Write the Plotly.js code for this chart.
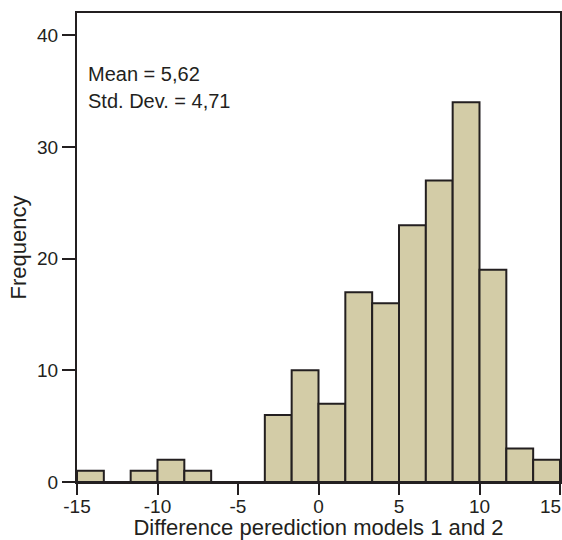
<!DOCTYPE html>
<html>
<head>
<meta charset="utf-8">
<script src="https://cdn.plot.ly/plotly-3.0.1.min.js"></script>
<style>
  html, body { margin: 0; padding: 0; background: #ffffff; }
  #chart { width: 562px; height: 540px; }
</style>
</head>
<body>
<div id="chart"></div>
<script>
// Histogram of the difference between the two models' predictions
const binStart = -15;          // lower edge of the first bin
const binWidth = 5 / 3;        // width of every bin
const counts = [1, 0, 1, 2, 1, 0, 0, 6, 10, 7, 17, 16, 23, 27, 34, 19, 3, 2];
const xTicks = [-15, -10, -5, 0, 5, 10, 15];
const yTicks = [0, 10, 20, 30, 40];
const statLines = ['Mean = 5,62', 'Std. Dev. = 4,71'];

const centers = counts.map((_, i) => binStart + (i + 0.5) * binWidth);

const FONT = '"Liberation Sans", Arial, Helvetica, sans-serif';
const INK = '#231f20';

// the last x tick label sits flush against the right edge, so it is drawn
// as a right-anchored annotation instead of a centred tick label
const lastX = xTicks[xTicks.length - 1];
const xTickText = xTicks.map(v => (v === lastX ? '' : String(v)));

const trace = {
  type: 'bar',
  x: centers,
  y: counts,
  width: counts.map(() => binWidth),
  marker: { color: '#d3cca7', line: { color: INK, width: 2 } },
  hoverinfo: 'skip'
};

const statNotes = statLines.map((t, i) => ({
  xref: 'paper', yref: 'paper',
  x: 0.019, y: 0.870 - i * 0.0576,
  xanchor: 'left', yanchor: 'middle',
  showarrow: false,
  text: t,
  font: { family: FONT, size: 20, color: INK }
}));

const edgeTick = {
  xref: 'x', yref: 'paper',
  x: lastX, y: -0.0512,
  xanchor: 'right', yanchor: 'middle',
  xshift: 3,
  showarrow: false,
  text: String(lastX),
  font: { family: FONT, size: 19, color: INK }
};

const layout = {
  width: 562,
  height: 540,
  margin: { l: 77, r: 2, t: 13, b: 58 },
  paper_bgcolor: '#ffffff',
  plot_bgcolor: '#ffffff',
  showlegend: false,
  font: { family: FONT, color: INK, size: 19 },
  bargap: 0,
  xaxis: {
    range: [-15, 15],
    tickvals: xTicks,
    ticktext: xTickText,
    ticks: 'outside',
    ticklen: 11,
    tickwidth: 2,
    tickcolor: INK,
    ticklabelstandoff: -5,
    showline: true,
    linewidth: 2,
    linecolor: INK,
    mirror: true,
    showgrid: false,
    zeroline: false,
    tickfont: { family: FONT, size: 19, color: INK },
    title: { text: 'Difference perediction models 1 and 2', font: { family: FONT, size: 22, color: INK }, standoff: 4 }
  },
  yaxis: {
    range: [0, 42],
    tickvals: yTicks,
    ticktext: yTicks.map(String),
    ticks: 'outside',
    ticklen: 13,
    tickwidth: 2,
    tickcolor: INK,
    showline: true,
    linewidth: 2,
    linecolor: INK,
    mirror: true,
    showgrid: false,
    zeroline: false,
    tickfont: { family: FONT, size: 19, color: INK },
    title: { text: 'Frequency', font: { family: FONT, size: 22, color: INK }, standoff: 4 }
  },
  annotations: statNotes.concat([edgeTick])
};

Plotly.newPlot('chart', [trace], layout, { displayModeBar: false, staticPlot: true });
</script>
</body>
</html>
